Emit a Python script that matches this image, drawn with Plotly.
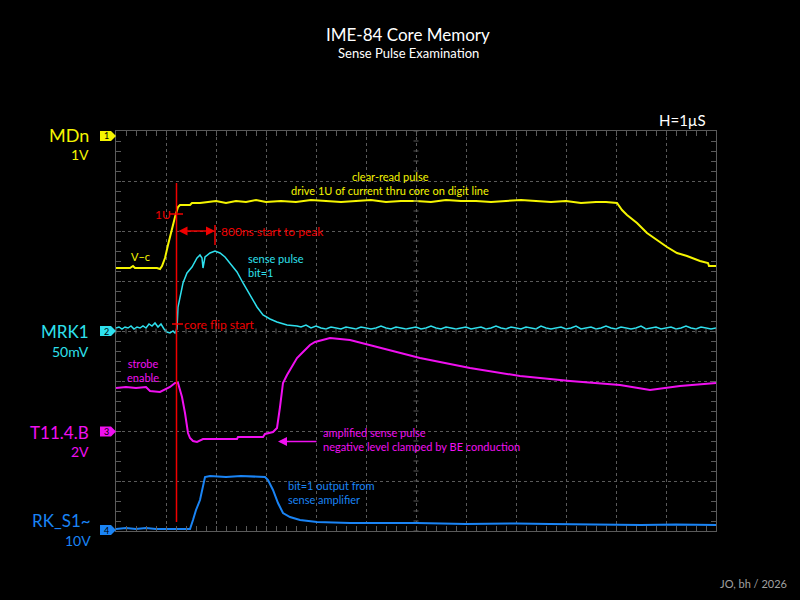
import plotly.graph_objects as go

# ---------------- data (time in µs, amplitude in screen divisions) ----------------
mdn_t = [0.00, 0.28, 0.34, 0.38, 0.82, 0.88, 0.92, 0.98, 1.04, 1.12, 1.18, 1.24, 1.28, 1.48, 1.52,
         1.68, 1.8, 2.0, 2.2, 2.4, 2.6, 2.8, 3.0, 3.3, 3.6, 3.9, 4.2, 4.5, 4.8, 5.1, 5.4, 5.7, 6.0,
         6.3, 6.6, 6.9, 7.2, 7.5, 7.8, 8.1, 8.4, 8.7, 9.0, 9.3, 9.6, 9.8, 10.02, 10.12, 10.22, 10.42,
         10.62, 10.82, 11.02, 11.22, 11.42, 11.68, 11.84, 11.86, 12.0]
mdn_v = [5.26, 5.26, 5.30, 5.26, 5.26, 5.24, 5.30, 5.46, 5.72, 6.06, 6.28, 6.48, 6.52, 6.52, 6.56,
         6.56, 6.58, 6.60, 6.56, 6.60, 6.58, 6.62, 6.58, 6.60, 6.58, 6.62, 6.60, 6.58, 6.60, 6.62, 6.58,
         6.60, 6.60, 6.58, 6.62, 6.60, 6.60, 6.58, 6.60, 6.62, 6.60, 6.58, 6.60, 6.56, 6.58, 6.58, 6.56,
         6.42, 6.32, 6.16, 5.96, 5.82, 5.68, 5.56, 5.50, 5.40, 5.36, 5.30, 5.30]

mrk_t = [0.00, 0.06, 0.12, 0.18, 0.24, 0.30, 0.36, 0.42, 0.48, 0.54, 0.60, 0.66, 0.72, 0.78, 0.84,
         0.90, 0.96, 1.02, 1.08, 1.14, 1.18, 1.22, 1.24, 1.28, 1.34, 1.42, 1.52, 1.62, 1.68, 1.72,
         1.74, 1.78, 1.88, 1.98, 2.08, 2.18, 2.28, 2.42, 2.54, 2.68, 2.82, 2.94, 3.08, 3.22, 3.42,
         3.62, 3.7, 3.8, 3.9, 4.0, 4.1, 4.2, 4.3, 4.4, 4.5, 4.6, 4.7, 4.8, 4.9, 5.0, 5.1, 5.2, 5.3,
         5.4, 5.5, 5.6, 5.7, 5.8, 5.9, 6.0, 6.1, 6.2, 6.3, 6.4, 6.5, 6.6, 6.7, 6.8, 6.9, 7.0, 7.1,
         7.2, 7.3, 7.4, 7.5, 7.6, 7.7, 7.8, 7.9, 8.0, 8.1, 8.2, 8.3, 8.4, 8.5, 8.6, 8.7, 8.8, 8.9,
         9.0, 9.1, 9.2, 9.3, 9.4, 9.5, 9.6, 9.7, 9.8, 9.9, 10.0, 10.1, 10.2, 10.3, 10.4, 10.5, 10.6,
         10.7, 10.8, 10.9, 11.0, 11.1, 11.2, 11.3, 11.4, 11.5, 11.6, 11.7, 11.8, 11.9, 12.0]
mrk_v = [4.06, 4.08, 4.04, 4.08, 4.06, 4.10, 4.04, 4.08, 4.06, 4.10, 4.06, 4.14, 4.10, 4.16, 4.08,
         4.14, 4.04, 3.98, 3.96, 4.00, 3.96, 4.04, 4.48, 4.68, 4.96, 5.16, 5.28, 5.46, 5.52, 5.46,
         5.26, 5.48, 5.56, 5.60, 5.56, 5.48, 5.36, 5.18, 4.96, 4.72, 4.48, 4.32, 4.24, 4.18, 4.12,
         4.10, 4.08, 4.12, 4.06, 4.10, 4.06, 4.04, 4.08, 4.06, 4.04, 4.08, 4.06, 4.04, 4.08, 4.06,
         4.04, 4.06, 4.10, 4.06, 4.04, 4.08, 4.06, 4.04, 4.06, 4.08, 4.04, 4.06, 4.10, 4.06, 4.04,
         4.08, 4.06, 4.04, 4.06, 4.08, 4.04, 4.06, 4.08, 4.04, 4.06, 4.10, 4.06, 4.04, 4.08, 4.06,
         4.04, 4.08, 4.06, 4.04, 4.10, 4.06, 4.04, 4.06, 4.08, 4.04, 4.06, 4.10, 4.04, 4.06, 4.08,
         4.04, 4.06, 4.10, 4.06, 4.04, 4.08, 4.06, 4.04, 4.06, 4.10, 4.04, 4.06, 4.08, 4.04, 4.06,
         4.08, 4.04, 4.06, 4.10, 4.06, 4.04, 4.08, 4.06, 4.04, 4.06]

t11_t = [0.00, 0.2, 0.4, 0.6, 0.68, 0.88, 1.08, 1.18, 1.24, 1.32, 1.38, 1.44, 1.48, 1.54, 1.62,
         1.74, 2.42, 2.44, 2.94, 2.98, 3.14, 3.22, 3.28, 3.34, 3.42, 3.52, 3.62, 3.74, 3.88, 3.98,
         4.28, 4.68, 5.28, 6.08, 7.08, 8.08, 9.08, 10.08, 10.68, 11.28, 12.0]
t11_v = [2.86, 2.88, 2.86, 2.88, 2.80, 2.78, 2.88, 2.96, 2.96, 2.68, 2.36, 1.96, 1.86, 1.80, 1.78,
         1.84, 1.84, 1.88, 1.88, 1.94, 1.98, 2.06, 2.48, 2.96, 3.12, 3.28, 3.46, 3.58, 3.72, 3.78,
         3.86, 3.82, 3.66, 3.46, 3.26, 3.10, 3.00, 2.92, 2.82, 2.90, 2.96]

rks_t = [0.00, 0.2, 0.4, 0.6, 0.8, 1.0, 1.2, 1.48, 1.54, 1.60, 1.68, 1.74, 1.78, 1.88, 2.2, 2.5,
         2.8, 2.98, 3.04, 3.14, 3.24, 3.34, 3.48, 3.68, 4.02, 4.68, 5.4, 6.02, 7.0, 8.0, 8.68,
         9.5, 10.5, 11.2, 12.0]
rks_v = [0.04, 0.06, 0.04, 0.06, 0.04, 0.04, 0.04, 0.04, 0.22, 0.42, 0.62, 0.86, 1.08, 1.10, 1.08,
         1.10, 1.08, 1.08, 1.02, 0.82, 0.56, 0.36, 0.28, 0.22, 0.18, 0.16, 0.16, 0.16, 0.14, 0.15,
         0.14, 0.13, 0.12, 0.13, 0.12]

cursor_t = 1.21

# ---------------- styling ----------------
YEL, CYA, MAG, BLU, RED = "#f5f500", "#2ee0ee", "#f010f0", "#1a84f5", "#f00000"
GRID = "#5a5a5a"
FONT = "Lato"

L, R, T, B = 116, 716, 131, 531


def pxx(px):
    return (px - L) / (R - L)


def pxy(py):
    return (B - py) / (B - T)


fig = go.Figure()
for t, v, c, w in [(mdn_t, mdn_v, YEL, 2), (mrk_t, mrk_v, CYA, 1.5), (t11_t, t11_v, MAG, 2), (rks_t, rks_v, BLU, 2)]:
    fig.add_trace(go.Scatter(x=t, y=v, mode="lines", line=dict(color=c, width=w), hoverinfo="skip"))

axis_common = dict(showgrid=True, gridcolor=GRID, griddash="dot", gridwidth=1, zeroline=False,
                   showticklabels=False, ticks="inside", ticklen=5, tickcolor=GRID, showline=True,
                   linecolor=GRID, linewidth=1, mirror="ticks", tick0=0, dtick=1, fixedrange=True,
                   minor=dict(dtick=0.2, ticks="inside", ticklen=5, tickcolor=GRID, showgrid=False))
fig.update_xaxes(range=[0, 12], **axis_common)
fig.update_yaxes(range=[0, 8], **axis_common)

shapes = []
# centre-line ticks
path = ""
for i in range(61):
    x = i * 0.2
    path += f"M{x},{4 - 0.05} L{x},{4 + 0.05} "
for i in range(41):
    y = i * 0.2
    path += f"M{6 - 0.05},{y} L{6 + 0.05},{y} "
shapes.append(dict(type="path", path=path, line=dict(color=GRID, width=1), xref="x", yref="y"))

# red cursor and marks
shapes.append(dict(type="line", x0=cursor_t, x1=cursor_t, y0=0.18, y1=6.96, line=dict(color=RED, width=1.5)))
shapes.append(dict(type="line", x0=1.08, x1=1.34, y0=6.34, y1=6.34, line=dict(color=RED, width=1.5)))
shapes.append(dict(type="line", x0=1.12, x1=1.34, y0=4.14, y1=4.14, line=dict(color=RED, width=1.5)))
shapes.append(dict(type="line", x0=1.98, x1=1.98, y0=5.72, y1=6.12, line=dict(color=RED, width=1.5)))

# channel markers
annos = []
for py, col, num in [(136, YEL, "1"), (331, CYA, "2"), (431.5, MAG, "3"), (530, BLU, "4")]:
    p = (f"M{pxx(100)},{pxy(py-5)} L{pxx(111)},{pxy(py-5)} L{pxx(116)},{pxy(py)} "
         f"L{pxx(111)},{pxy(py+5)} L{pxx(100)},{pxy(py+5)} Z")
    shapes.append(dict(type="path", path=p, xref="paper", yref="paper", fillcolor=col, line=dict(width=0)))
    annos.append(dict(x=pxx(106), y=pxy(py), xref="paper", yref="paper", text=num, showarrow=False,
                      font=dict(family=FONT, size=9, color="#000"), xanchor="center", yanchor="middle"))


def label(text, px, py, color, size, anchor="left"):
    annos.append(dict(x=pxx(px), y=pxy(py), xref="paper", yref="paper", text=text, showarrow=False,
                      xanchor=anchor, yanchor="middle", align=anchor,
                      font=dict(family=FONT, size=size, color=color)))


# left channel labels
label("MDn", 91, 135, YEL, 18, "right")
label("1V", 91, 154, YEL, 14, "right")
label("MRK1", 91, 331, CYA, 17, "right")
label("50mV", 91, 351, CYA, 14, "right")
label("T11.4.B", 91, 432, MAG, 17, "right")
label("2V", 91, 451, MAG, 14, "right")
label("RK_S1~", 93, 520, BLU, 17, "right")
label("10V", 93, 540, BLU, 14, "right")

# titles
label("IME-84 Core Memory", 408, 34, "#ffffff", 17, "center")
label("Sense Pulse Examination", 408, 53, "#ffffff", 13, "center")
label("H=1µS", 708, 120, "#ffffff", 15, "right")
label("JO, bh / 2026", 789, 583, "#a0a0a0", 11, "right")

# in-plot notes
label("clear-read pulse", 390, 176, YEL, 11, "center")
label("drive 1U of current thru core on digit line", 390, 190, YEL, 11, "center")
label("V\u2212c", 129, 256, YEL, 11, "left")
label("sense pulse<br>bit=1", 246, 265, CYA, 11, "left")
label("1U", 153, 214, RED, 12, "left")
label("800ns start to peak", 219, 232, RED, 12, "left")
label("core flip start", 182, 324, RED, 12, "left")
label("strobe<br>enable", 143, 370, MAG, 11, "center")
label("amplified sense pulse<br>negative level clamped by BE conduction", 321, 439, MAG, 11, "left")
label("bit=1 output from<br>sense amplifier", 286, 492, BLU, 11, "left")

# arrows
annos.append(dict(x=1.98, y=6.0, ax=cursor_t + 0.01, ay=6.0, xref="x", yref="y", axref="x", ayref="y",
                  text="", showarrow=True, arrowhead=2, arrowside="end+start", arrowsize=1.2,
                  arrowwidth=1.5, arrowcolor=RED))
annos.append(dict(x=3.24, y=1.79, ax=4.04, ay=1.79, xref="x", yref="y", axref="x", ayref="y",
                  text="", showarrow=True, arrowhead=2, arrowsize=1.2, arrowwidth=1.5, arrowcolor=MAG))

fig.update_layout(width=800, height=600, margin=dict(l=L, r=800 - R, t=T, b=600 - B),
                  paper_bgcolor="#000000", plot_bgcolor="#000000", showlegend=False,
                  shapes=shapes, annotations=annos, font=dict(family=FONT))

fig.write_html("out.html", config={"displayModeBar": False},
               post_script="document.body.style.margin='0';document.body.style.background='#000';")
